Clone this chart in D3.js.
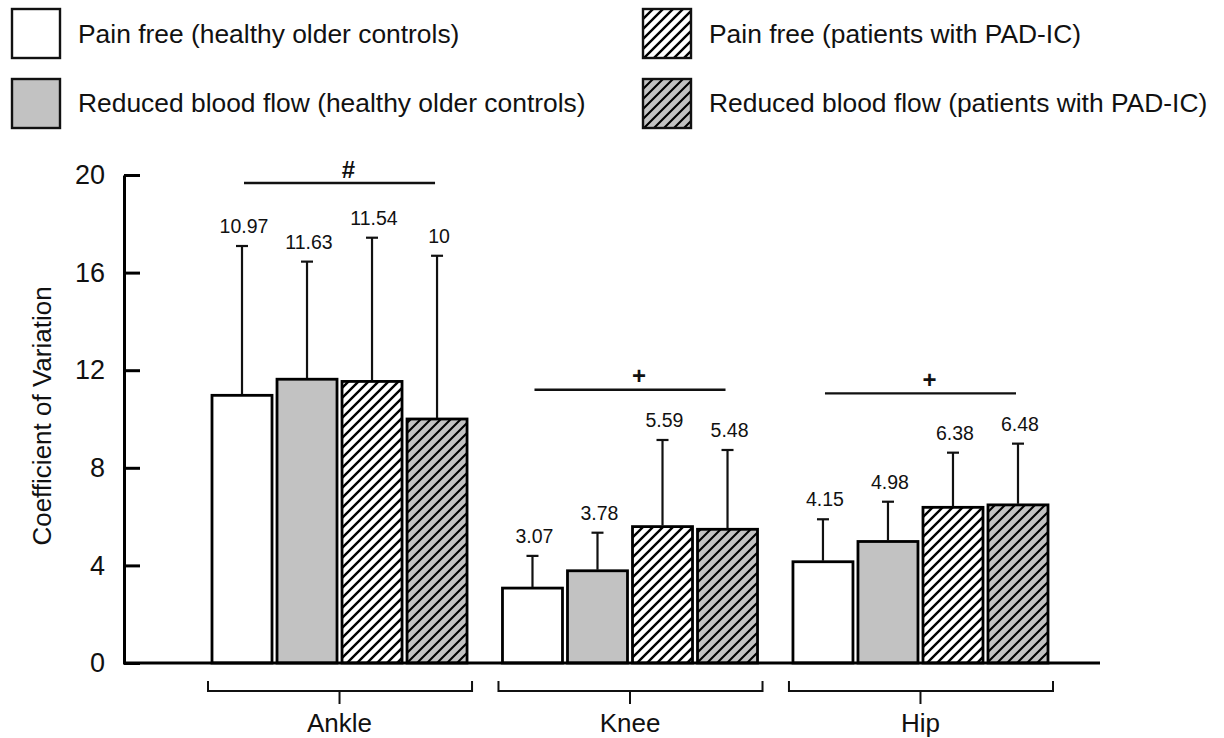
<!DOCTYPE html>
<html lang="en">
<head>
    <script src="https://d3js.org/d3.v7.min.js"></script>
</head>
<body style="margin:0;background:#fff">
<style>
    svg text {
        font-family: "Liberation Sans", Arial, Helvetica, sans-serif;
        fill: #111;
    }
</style>
<svg></svg>
</body>
<script>
    const width = 1224;
    const height = 738;

    const groups = ['Ankle', 'Knee', 'Hip'];
    const seriesNames = [
        'Pain free (healthy older controls)',
        'Reduced blood flow (healthy older controls)',
        'Pain free (patients with PAD-IC)',
        'Reduced blood flow (patients with PAD-IC)'
    ];
    // mean coefficient of variation, one row per joint
    const means = [
        [10.97, 11.63, 11.54, 10],
        [3.07, 3.78, 5.59, 5.48],
        [4.15, 4.98, 6.38, 6.48]
    ];
    // upper error bar length (read from the caps)
    const sds = [
        [6.12, 4.82, 5.89, 6.69],
        [1.32, 1.56, 3.55, 3.25],
        [1.74, 1.63, 2.24, 2.51]
    ];
    const sigSymbols = ['#', '+', '+'];
    const sigLevels = [19.67, 11.2, 11.05];
    const yTicks = [0, 4, 8, 12, 16, 20];

    const svg = d3.select('svg');
    svg.attr('width', width);
    svg.attr('height', height);

    // patterns
    const defs = svg.append('defs');
    const hatch = (id, bg, sw) => {
        const p = defs.append('pattern')
            .attr('id', id)
            .attr('patternUnits', 'userSpaceOnUse')
            .attr('width', 10)
            .attr('height', 10);
        p.append('rect').attr('width', 10).attr('height', 10).attr('fill', bg);
        p.append('path')
            .attr('d', 'M-2,2 l4,-4 M0,10 l10,-10 M8,12 l4,-4')
            .attr('stroke', '#000')
            .attr('stroke-width', sw);
    };
    hatch('hatchWhite', '#fff', 2.4);
    hatch('hatchGray', '#c2c2c2', 2.1);

    const fills = ['#fff', '#c2c2c2', 'url(#hatchWhite)', 'url(#hatchGray)'];

    const y = d3.scaleLinear().domain([0, 20]).range([663, 175]);
    const x0 = d3.scaleBand().domain(groups).range([212, 1048]).paddingInner(0.122).paddingOuter(0);
    const x1 = d3.scaleBand().domain(d3.range(seriesNames.length)).range([0, x0.bandwidth()]).paddingInner(0.077);

    // legend
    const legendPos = [[12, 9], [12, 79], [643, 9], [643, 79]];
    const legend = svg.append('g').selectAll('g').data(seriesNames).enter().append('g')
        .attr('transform', (d, i) => `translate(${legendPos[i][0]},${legendPos[i][1]})`);
    legend.append('rect')
        .attr('width', 48).attr('height', 49)
        .attr('fill', (d, i) => fills[i])
        .attr('stroke', '#111').attr('stroke-width', 2.4);
    legend.append('text')
        .attr('x', 66).attr('y', (d, i) => i % 2 === 0 ? 34 : 33)
        .style('font-size', '26.4px')
        .text((d) => d);

    // y axis
    const yAxis = d3.axisLeft(y).tickValues(yTicks).tickSizeInner(-16).tickSizeOuter(0).tickPadding(19);
    const ay = svg.append('g').attr('transform', 'translate(124,0)').call(yAxis);
    ay.select('.domain').attr('stroke', '#000').attr('stroke-width', 3);
    ay.selectAll('.tick line').attr('stroke', '#000').attr('stroke-width', 3);
    ay.selectAll('.tick text').style('font-size', '27px').attr('fill', '#111')
        .style('font-family', '"Liberation Sans", Arial, sans-serif');

    svg.append('text')
        .attr('transform', 'translate(51,416) rotate(-90)')
        .attr('text-anchor', 'middle')
        .style('font-size', '26px')
        .text('Coefficient of Variation');

    // bars
    const rows = [];
    groups.forEach((g, gi) => {
        means[gi].forEach((m, si) => rows.push({group: g, si: si, mean: m, sd: sds[gi][si]}));
    });

    const plot = svg.append('g');
    const bx = (d) => x0(d.group) + x1(d.si);
    const cx = (d) => bx(d) + x1.bandwidth() / 2;

    plot.selectAll('rect.bar').data(rows).enter().append('rect')
        .attr('class', 'bar')
        .attr('x', bx)
        .attr('y', (d) => y(d.mean))
        .attr('width', x1.bandwidth())
        .attr('height', (d) => y(0) - y(d.mean))
        .attr('fill', (d) => fills[d.si])
        .attr('stroke', '#000')
        .attr('stroke-width', 2.8);

    // error bars
    plot.selectAll('line.err').data(rows).enter().append('line')
        .attr('class', 'err')
        .attr('x1', cx).attr('x2', cx)
        .attr('y1', (d) => y(d.mean) - 1)
        .attr('y2', (d) => y(d.mean + d.sd))
        .attr('stroke', '#111').attr('stroke-width', 2.2);
    plot.selectAll('line.cap').data(rows).enter().append('line')
        .attr('class', 'cap')
        .attr('x1', (d) => cx(d) - 6).attr('x2', (d) => cx(d) + 6)
        .attr('y1', (d) => y(d.mean + d.sd))
        .attr('y2', (d) => y(d.mean + d.sd))
        .attr('stroke', '#111').attr('stroke-width', 2.2);

    plot.selectAll('text.val').data(rows).enter().append('text')
        .attr('class', 'val')
        .attr('x', (d) => cx(d) + 2)
        .attr('y', (d) => y(d.mean + d.sd) - 13)
        .attr('text-anchor', 'middle')
        .style('font-size', '19.5px')
        .text((d) => d.mean);

    // x baseline
    svg.append('line')
        .attr('x1', 123).attr('x2', 1100)
        .attr('y1', y(0)).attr('y2', y(0))
        .attr('stroke', '#000').attr('stroke-width', 3);

    // significance lines
    const firstC = (g) => x0(g) + x1(0) + x1.bandwidth() / 2;
    const lastC = (g) => x0(g) + x1(seriesNames.length - 1) + x1.bandwidth() / 2;
    const sig = svg.append('g').selectAll('g').data(groups).enter().append('g');
    sig.append('line')
        .attr('x1', (g) => firstC(g) + 2).attr('x2', (g) => lastC(g) - 2)
        .attr('y1', (g, i) => y(sigLevels[i])).attr('y2', (g, i) => y(sigLevels[i]))
        .attr('stroke', '#111').attr('stroke-width', 2.4);
    sig.append('text')
        .attr('x', (g) => (firstC(g) + lastC(g)) / 2 + 9)
        .attr('y', (g, i) => y(sigLevels[i]) - 14)
        .attr('dominant-baseline', 'central')
        .attr('text-anchor', 'middle')
        .style('font-size', '24px')
        .style('font-weight', 'bold')
        .text((g, i) => sigSymbols[i]);

    // group brackets under the axis
    const br = svg.append('g').selectAll('g').data(groups).enter().append('g');
    br.append('path')
        .attr('d', (g) => {
            const a = x0(g) - 4, b = x0(g) + x0.bandwidth() + 5;
            return `M${a},681 V691 H${b} V681`;
        })
        .attr('fill', 'none').attr('stroke', '#111').attr('stroke-width', 2);
    br.append('line')
        .attr('x1', (g) => x0(g) + x0.bandwidth() / 2)
        .attr('x2', (g) => x0(g) + x0.bandwidth() / 2)
        .attr('y1', 691).attr('y2', 704)
        .attr('stroke', '#111').attr('stroke-width', 2);
    br.append('text')
        .attr('x', (g) => x0(g) + x0.bandwidth() / 2)
        .attr('y', 732)
        .attr('text-anchor', 'middle')
        .style('font-size', '26px')
        .text((g) => g);
</script>
</html>
